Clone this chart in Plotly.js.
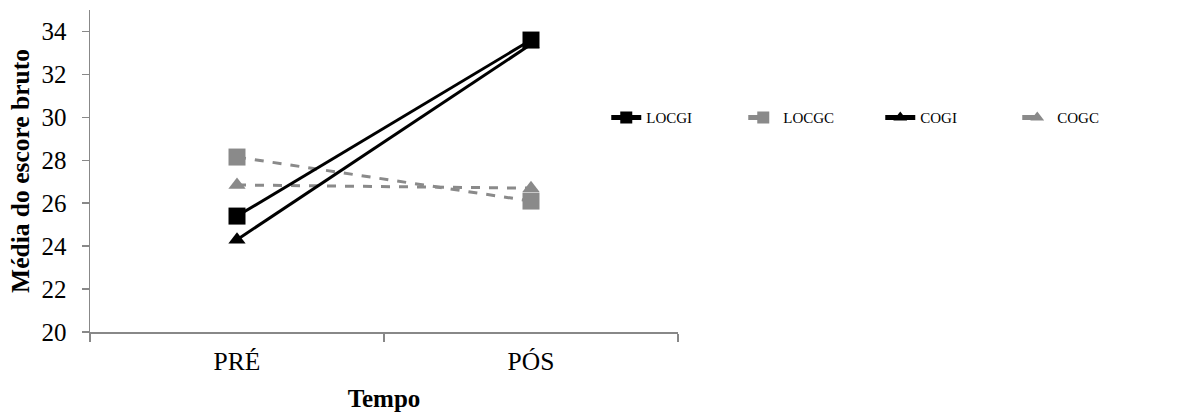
<!DOCTYPE html>
<html><head><meta charset="utf-8">
<script src="https://cdn.plot.ly/plotly-3.0.1.min.js"></script>
<style>html,body{margin:0;padding:0;background:#fff}#chart{width:1193px;height:415px}</style>
</head><body><div id="chart"></div>
<script>
const categories = ["PRÉ", "PÓS"];
const LOCGI = [25.4, 33.6];
const LOCGC = [28.15, 26.1];
const COGI = [24.3, 33.4];
const COGC = [26.85, 26.7];
const yTicks = [20, 22, 24, 26, 28, 30, 32, 34];

const black = "#000000", gray = "#8a8a8a";
function tr(name, y, color, dash, symbol){
  return {x: categories, y: y, name: name, type: "scatter", mode: "lines+markers",
    line: {color: color, width: 3, dash: dash},
    marker: {symbol: symbol, size: symbol === "square" ? 17 : 15, color: color}};
}
const data = [
  tr("LOCGC", LOCGC, gray, "dash", "square"),
  tr("COGC", COGC, gray, "dash", "triangle-up"),
  tr("LOCGI", LOCGI, black, "solid", "square"),
  tr("COGI", COGI, black, "solid", "triangle-up")
];
data[2].legendrank = 1; data[0].legendrank = 2; data[3].legendrank = 3; data[1].legendrank = 4;

const fam = "Liberation Serif";
const layout = {
  width: 1193, height: 415,
  margin: {l: 90, r: 515, t: 10, b: 83},
  paper_bgcolor: "#fff", plot_bgcolor: "#fff",
  font: {family: fam, color: "#000", size: 20},
  showlegend: true,
  legend: {orientation: "h", x: 0.878, xanchor: "left", y: 0.665, yanchor: "middle",
    font: {family: fam, size: 15, color: "#000"}, entrywidth: 92, entrywidthmode: "pixels",
    itemsizing: "constant",
    bgcolor: "rgba(0,0,0,0)", traceorder: "normal"},
  xaxis: {type: "category", range: [-0.5, 1.5], showline: true, linecolor: "#888", linewidth: 1.5,
    ticks: "outside", tickson: "boundaries", ticklen: 8, tickcolor: "#888", tickwidth: 1.5,
    showgrid: false, zeroline: false, tickfont: {family: fam, size: 25.5, color: "#000"},
    ticklabelstandoff: 6,
    title: {text: "<b>Tempo</b>", font: {family: fam, size: 25, color: "#000"}, standoff: 14}},
  yaxis: {range: [20, 35], tickvals: yTicks, showline: true, linecolor: "#888", linewidth: 1.5,
    ticks: "outside", ticklen: 7, tickcolor: "#888", tickwidth: 1.5, ticklabelstandoff: 10,
    showgrid: false, zeroline: false, tickfont: {family: fam, size: 25, color: "#000"},
    title: {text: "<b>Média do escore bruto</b>", font: {family: fam, size: 25.5, color: "#000"}, standoff: 4}}
};
Plotly.newPlot("chart", data, layout, {displayModeBar: false, staticPlot: true});
</script></body></html>
